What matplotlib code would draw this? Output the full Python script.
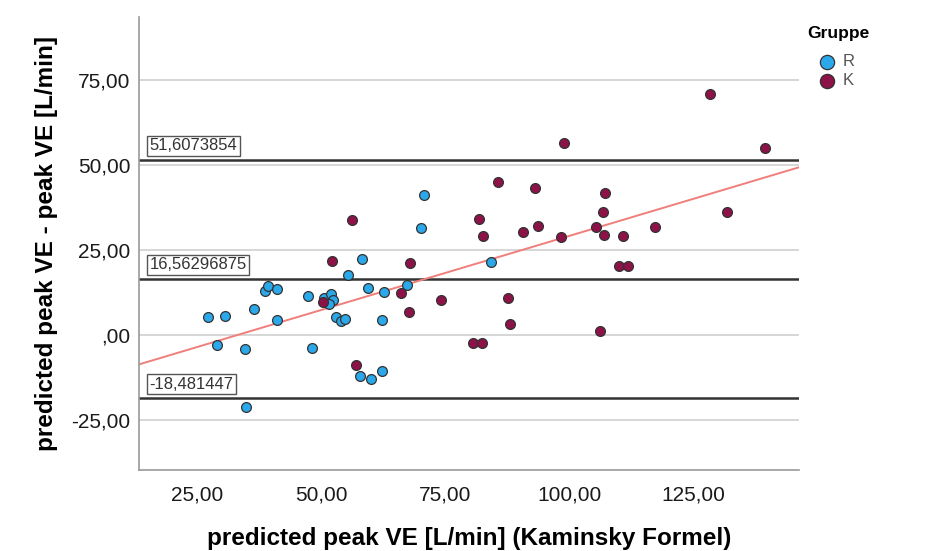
import numpy as np
import matplotlib.pyplot as plt
from matplotlib.ticker import FuncFormatter
from matplotlib.transforms import blended_transform_factory

plt.rcParams['font.family'] = ['Liberation Sans', 'DejaVu Sans']

# group R: predicted peak VE (Kaminsky) vs. difference predicted - measured
r_x = [27.16, 30.65, 29.09, 34.74, 36.55, 38.71, 39.25, 41.13, 41.13, 47.32,
       48.12, 50.60, 51.88, 52.28, 51.47, 53.02, 53.97, 54.70, 57.86, 60.02,
       62.24, 59.48, 62.70, 62.24, 67.34, 34.88, 70.77, 70.02, 58.21, 55.44,
       84.21]
r_y = [5.21, 5.68, -2.94, -4.21, 7.65, 12.94, 14.50, 13.44, 4.32, 11.56,
       -3.74, 10.97, 12.15, 10.29, 9.03, 5.21, 4.12, 4.71, -12.15, -12.94,
       -10.68, 13.74, 12.74, 4.32, 14.62, -21.09, 41.32, 31.38, 22.44, 17.79,
       21.56]

# group K
k_x = [50.26, 57.06, 65.99, 67.60, 74.05, 56.25, 52.22, 67.80, 85.62, 92.94,
       107.20, 81.85, 82.66, 90.67, 93.69, 106.65, 105.30, 106.92, 110.69, 117.14,
       98.29, 109.88, 111.79, 87.56, 88.04, 106.11, 80.50, 82.40, 128.23, 98.85,
       139.25, 131.71]
k_y = [9.62, -8.91, 12.21, 6.76, 10.29, 33.68, 21.71, 21.12, 45.09, 43.32,
       41.71, 34.21, 29.03, 30.21, 32.15, 36.18, 31.76, 29.41, 29.12, 31.68,
       28.74, 20.24, 20.24, 10.88, 3.24, 1.32, -2.44, -2.44, 70.97, 56.47,
       54.91, 36.26]

# mean difference and limits of agreement
ref_lines = [51.6073854, 16.56296875, -18.481447]
ref_labels = ['51,6073854', '16,56296875', '-18,481447']

x_ticks = [25, 50, 75, 100, 125]
y_ticks = [-25, 0, 25, 50, 75]

col_r = '#2BA8EA'
col_k = '#8C1247'


def comma_fmt(v, pos=None):
    s = f'{v:.2f}'.replace('.', ',')
    if s.startswith('0,'):
        s = s[1:]
    return s


fig = plt.figure(figsize=(9.39, 5.51), dpi=100)
ax = fig.add_axes([0.148, 0.147, 0.703, 0.822])

xlim = (13.3, 146.2)
ax.set_xlim(*xlim)
ax.set_ylim(-39.7, 93.5)

for v in y_ticks:
    ax.axhline(v, color='#d0d0d0', lw=1.2, zorder=0)

trans = blended_transform_factory(ax.transAxes, ax.transData)
for v, lab in zip(ref_lines, ref_labels):
    ax.axhline(v, color='#333333', lw=1.8, zorder=1)
    ax.annotate(lab, xy=(0.016, v), xycoords=trans, xytext=(0, 4.5),
                textcoords='offset points', va='bottom', ha='left',
                fontsize=12, color='#333333',
                bbox=dict(boxstyle='square,pad=0.15', fc='white',
                          ec='#555555', lw=1))

# linear fit over all points
all_x = np.array(r_x + k_x)
all_y = np.array(r_y + k_y)
slope, icpt = np.polyfit(all_x, all_y, 1)
fx = np.array(xlim)
ax.plot(fx, slope * fx + icpt, color='#F07E7A', lw=1.4, zorder=2)

ax.scatter(r_x, r_y, s=50, c=col_r, edgecolors='#333333', linewidths=0.9,
           zorder=3, label='R')
ax.scatter(k_x, k_y, s=50, c=col_k, edgecolors='#333333', linewidths=0.9,
           zorder=3, label='K')

ax.set_xticks(x_ticks)
ax.set_yticks(y_ticks)
ax.xaxis.set_major_formatter(FuncFormatter(comma_fmt))
ax.yaxis.set_major_formatter(FuncFormatter(comma_fmt))
ax.tick_params(length=0, labelsize=15, colors='#1a1a1a')
ax.tick_params(axis='y', pad=6)
ax.tick_params(axis='x', pad=11)

for side in ['top', 'right']:
    ax.spines[side].set_visible(False)
for side in ['left', 'bottom']:
    ax.spines[side].set_color('#999999')
    ax.spines[side].set_linewidth(1.2)

ax.set_xlabel('predicted peak VE [L/min] (Kaminsky Formel)', fontsize=17.5,
              fontweight='bold', labelpad=16)
ax.set_ylabel('predicted peak VE - peak VE [L/min]', fontsize=17.5,
              fontweight='bold', labelpad=10)

leg = ax.legend(title='Gruppe', loc='upper left', bbox_to_anchor=(0.995, 1.005),
                frameon=False, fontsize=12, handletextpad=-0.2,
                labelspacing=0.25, markerscale=1.45, borderaxespad=0.3,
                handlelength=2.3)
leg._legend_box.align = 'left'
leg._legend_box.sep = 9
leg.get_title().set_fontweight('bold')
leg.get_title().set_fontsize(12.5)
for t in leg.get_texts():
    t.set_color('#555555')

fig.savefig('out.png', dpi=100)
